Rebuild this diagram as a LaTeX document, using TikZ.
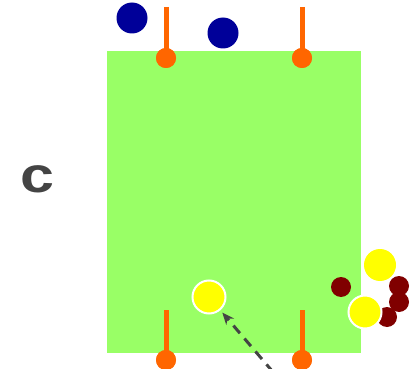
\documentclass[tikz,border=0pt]{standalone}
\usepackage{fontspec}
\setsansfont{Liberation Sans}
\usetikzlibrary{arrows.meta}
\definecolor{pitch}{HTML}{99FF66}
\definecolor{postcol}{HTML}{FF6600}
\definecolor{navy}{HTML}{000099}
\definecolor{ballcol}{HTML}{FFFF00}
\definecolor{darkred}{HTML}{800000}
\definecolor{ink}{HTML}{444444}

\begin{document}
\begin{tikzpicture}[x=1pt,y=-1pt,
  post/.style={line width=5pt,draw=postcol},
  foot/.style={circle,fill=postcol,minimum size=20pt,inner sep=0pt},
  blue/.style={circle,fill=navy,minimum size=31pt,inner sep=0pt},
  red/.style={circle,fill=darkred,minimum size=20pt,inner sep=0pt},
  ball/.style={circle,fill=ballcol,minimum size=32pt,inner sep=0pt},
  wball/.style={circle,fill=ballcol,draw=white,line width=2pt,minimum size=33pt,inner sep=0pt},
  pass/.style={-{Stealth[length=12pt,width=10pt]},ink,line width=3pt,dash pattern=on 10pt off 7pt,shorten >=3pt}
]
  \useasboundingbox (0,0) rectangle (418,369);
  \fill[pitch] (107,51) rectangle (361,353);
  \node[font=\sffamily\bfseries\fontsize{50}{50}\selectfont,text=ink,xscale=1.22] (lbl) at (37,179) {c};
  % posts
  \coordinate (t1) at (166,7);   \node[foot] (p1) at (166,58) {};
  \coordinate (t2) at (302,7);   \node[foot] (p2) at (302,58) {};
  \coordinate (t3) at (166,310); \node[foot] (p3) at (166,360) {};
  \coordinate (t4) at (302,310); \node[foot] (p4) at (302,360) {};
  \draw[post] (t1) -- (p1.center); \draw[post] (t2) -- (p2.center);
  \draw[post] (t3) -- (p3.center); \draw[post] (t4) -- (p4.center);
  \node[foot] at (p1) {}; \node[foot] at (p2) {};
  \node[foot] at (p3) {}; \node[foot] at (p4) {};
  % players
  \node[blue] (b1) at (132,18) {};
  \node[blue] (b2) at (223,33) {};
  \node[red] (r1) at (341,287) {};
  \node[red] (r2) at (399,286) {};
  \node[red] (r3) at (399,302) {};
  \node[red] (r4) at (387,317) {};
  \node[ball] (y1) at (380,265) {};
  \node[wball] (y2) at (365,312) {};
  \node[wball] (y3) at (209,297) {};
  % pass
  \coordinate (kick) at (273,372);
  \draw[pass] (kick) -- (y3);
\end{tikzpicture}
\end{document}
